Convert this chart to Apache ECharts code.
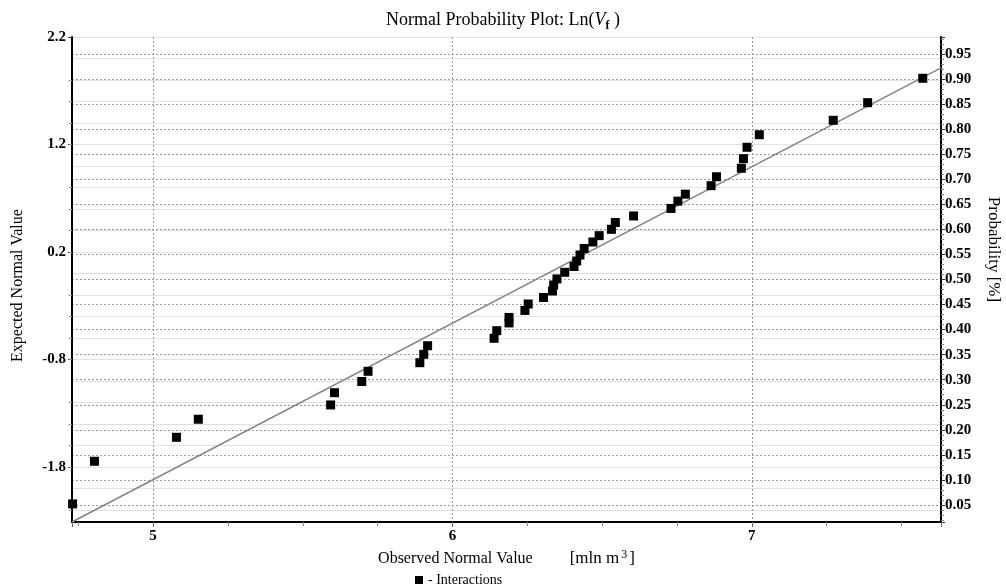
<!DOCTYPE html>
<html>
<head>
<meta charset="utf-8">
<script src="https://cdn.jsdelivr.net/npm/echarts@6/dist/echarts.min.js"></script>
<style>
  html, body { margin: 0; padding: 0; background: #fff; }
  #chart { width: 1006px; height: 585px; }
</style>
</head>
<body>
<div id="chart"></div>
<script>
// Observed ln(V_f) values of the interactions and their expected normal scores
const observedLn = [
  4.731, 4.804, 5.078, 5.151, 5.593, 5.606, 5.697, 5.718, 5.891, 5.904,
  5.917, 6.139, 6.148, 6.189, 6.189, 6.242, 6.253, 6.304, 6.334, 6.338,
  6.349, 6.375, 6.406, 6.415, 6.426, 6.440, 6.469, 6.490, 6.531, 6.544,
  6.605, 6.730, 6.753, 6.778, 6.864, 6.882, 6.965, 6.972, 6.984, 7.025,
  7.272, 7.387, 7.571
];
const expectedNormal = [
  -2.144, -1.747, -1.524, -1.356, -1.223, -1.109, -1.005, -0.910, -0.830, -0.752,
  -0.672, -0.603, -0.532, -0.460, -0.409, -0.344, -0.284, -0.223, -0.163, -0.107,
  -0.051, 0.011, 0.065, 0.116, 0.172, 0.233, 0.293, 0.352, 0.411, 0.474,
  0.535, 0.605, 0.673, 0.738, 0.817, 0.900, 0.979, 1.068, 1.174, 1.291,
  1.425, 1.589, 1.816
];

// Reference normal line (end points across the plotted range)
const fitLineX = [4.729, 7.632];
const fitLineY = [-2.312, 1.912];

// Tick labels
const leftTicks = [-1.8, -0.8, 0.2, 1.2, 2.2];
const xRange = [4.729, 7.632];
const yRange = [-2.312, 2.2];
const probRange = [0.016, 0.984];

const serif = "'Liberation Serif', 'Times New Roman', serif";

const chart = echarts.init(document.getElementById('chart'), null, { renderer: 'canvas' });

const scatterData = observedLn.map((x, i) => [x, expectedNormal[i]]);
const lineData = fitLineX.map((x, i) => [x, fitLineY[i]]);

const dashed = { type: [2, 2], color: '#9a9a9a', width: 1 };

chart.setOption({
  animation: false,
  backgroundColor: '#fff',
  title: {
    text: '{t|Normal Probability Plot: Ln(}{v|V}{s|f}{t| )}',
    left: 'center',
    top: 3,
    textStyle: {
      fontWeight: 'normal',
      rich: {
        t: { fontFamily: serif, fontSize: 18, fontWeight: 'normal', color: '#000', lineHeight: 24 },
        v: { fontFamily: serif, fontSize: 18, fontWeight: 'normal', fontStyle: 'italic', color: '#000', lineHeight: 24 },
        s: { fontFamily: serif, fontSize: 12, fontWeight: 'bold', color: '#000', verticalAlign: 'bottom', lineHeight: 15 }
      }
    }
  },
  legend: {
    data: ['Interactions'],
    left: 410,
    top: 568,
    icon: 'rect',
    itemWidth: 8,
    itemHeight: 8,
    itemGap: 6,
    formatter: () => '- Interactions',
    textStyle: { fontFamily: serif, fontSize: 14, color: '#000' }
  },
  grid: { left: 72, right: 65, top: 37, bottom: 63, containLabel: false, outerBoundsMode: 'none' },
  xAxis: {
    type: 'value',
    min: xRange[0],
    max: xRange[1],
    splitNumber: 3,
    name: '{a|Observed Normal Value}{g|}{b|[mln m}{c|3}{b|]}',
    nameLocation: 'middle',
    nameGap: 21,
    nameTextStyle: {
      rich: {
        a: { fontFamily: serif, fontSize: 16, color: '#000', lineHeight: 20 },
        g: { width: 37, lineHeight: 20 },
        b: { fontFamily: serif, fontSize: 17, color: '#000', lineHeight: 20 },
        c: { fontFamily: serif, fontSize: 12, color: '#000', verticalAlign: 'top', lineHeight: 13, padding: [0, 2, 0, 2] }
      }
    },
    axisLine: { onZero: false, lineStyle: { color: '#000', width: 2 } },
    axisTick: { show: true, length: 5, lineStyle: { color: '#666' } },
    minorTick: { show: true, splitNumber: 4, length: 4, lineStyle: { color: '#888' } },
    axisLabel: {
      showMinLabel: false,
      showMaxLabel: false,
      margin: 7,
      color: '#000',
      fontFamily: serif,
      fontSize: 15,
      fontWeight: 'bold'
    },
    splitLine: { show: true, lineStyle: dashed }
  },
  yAxis: [
    {
      type: 'value',
      min: yRange[0],
      max: yRange[1],
      splitNumber: 5,
      position: 'left',
      name: 'Expected Normal Value',
      nameLocation: 'middle',
      nameGap: 46,
      nameTextStyle: { fontFamily: serif, fontSize: 16, color: '#000', padding: [0, 12, 0, 0] },
      axisLine: { show: true, onZero: false, lineStyle: { color: '#000', width: 2 } },
      axisTick: { show: true, customValues: leftTicks, length: 4, lineStyle: { color: '#333' } },
      minorTick: { show: true, splitNumber: 5, length: 3, lineStyle: { color: '#888' } },
      axisLabel: {
        customValues: leftTicks,
        margin: 6,
        color: '#000',
        fontFamily: serif,
        fontSize: 15,
        fontWeight: 'bold',
        formatter: v => v.toFixed(1)
      },
      splitLine: { show: true, lineStyle: dashed }
    },
    {
      type: 'value',
      min: probRange[0],
      max: probRange[1],
      splitNumber: 19,
      position: 'right',
      name: 'Probability [%]',
      nameLocation: 'middle',
      nameRotate: -90,
      nameGap: 44,
      nameTextStyle: { fontFamily: serif, fontSize: 17, color: '#000', padding: [0, 60, 0, 0] },
      axisLine: { show: true, onZero: false, lineStyle: { color: '#000', width: 2 } },
      axisTick: { show: true, length: 4, lineStyle: { color: '#333' } },
      minorTick: { show: true, splitNumber: 5, length: 3, lineStyle: { color: '#888' } },
      axisLabel: {
        showMinLabel: false,
        showMaxLabel: false,
        margin: 4,
        color: '#000',
        fontFamily: serif,
        fontSize: 15,
        fontWeight: 'bold',
        formatter: v => v.toFixed(2)
      },
      splitLine: { show: true, lineStyle: dashed }
    },
    {
      // light solid lines every 0.2 of the expected normal value
      type: 'value',
      min: yRange[0],
      max: yRange[1],
      splitNumber: 22,
      position: 'left',
      axisLine: { show: false },
      axisTick: { show: false },
      axisLabel: { show: false },
      splitLine: { show: true, lineStyle: { color: '#e2e2e2', width: 1, type: 'solid' } }
    }
  ],
  series: [
    {
      name: 'Normal line',
      type: 'line',
      data: lineData,
      showSymbol: false,
      symbol: 'none',
      lineStyle: { color: '#858585', width: 1.5 },
      z: 3,
      silent: true
    },
    {
      name: 'Interactions',
      type: 'scatter',
      data: scatterData,
      symbol: 'rect',
      symbolSize: 9,
      itemStyle: { color: '#000', opacity: 1 },
      z: 4
    }
  ]
});
</script>
</body>
</html>
